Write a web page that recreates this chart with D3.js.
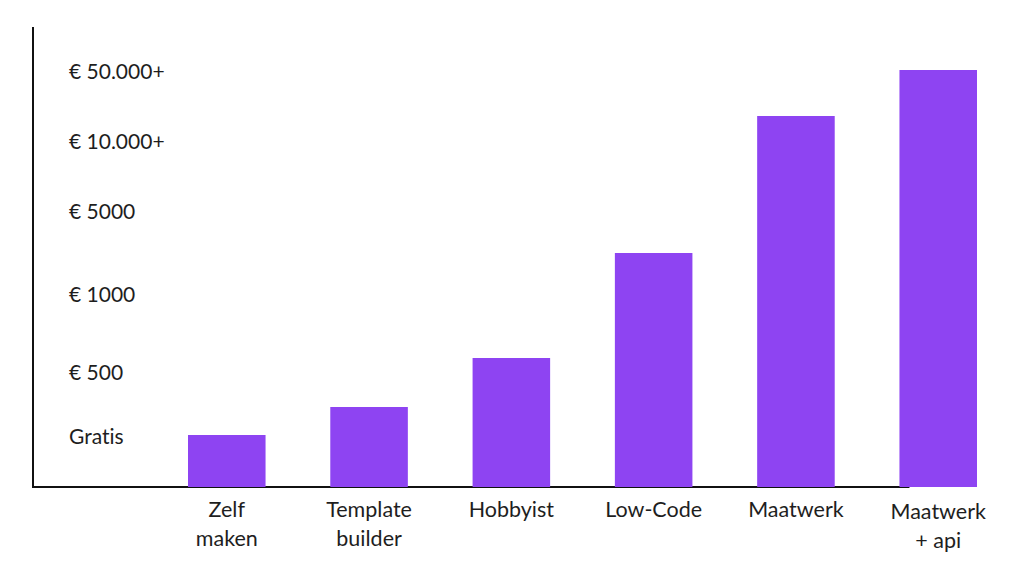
<!DOCTYPE html>
<html>
<head>
<meta charset="utf-8">
<script src="https://cdn.jsdelivr.net/npm/d3@7"></script>
<style>
  html, body { margin: 0; padding: 0; background: #fff; }
  svg { display: block; }
  text { font-family: Lato, "Open Sans", sans-serif; fill: #1e1e1e; font-variant-ligatures: none; }
</style>
</head>
<body>
<svg id="chart" width="1024" height="576"></svg>
<script>
// Categories (multi-line labels)
const categories = [["Zelf", "maken"], ["Template", "builder"], ["Hobbyist"], ["Low-Code"], ["Maatwerk"], ["Maatwerk", "+ api"]];
// Relative bar heights (index units)
const values = [52, 80, 129, 234, 371, 417];
// Y-axis price labels and their levels on the same index scale
const tickLabels = ["Gratis", "€ 500", "€ 1000", "€ 5000", "€ 10.000+", "€ 50.000+"];
const tickLevels = [51, 115, 193, 276, 346, 416];

const svg = d3.select("#chart");
const color = "#8e44f2";

const y = d3.scaleLinear().domain([0, 460]).range([487, 27]);
const x = d3.scaleBand()
  .domain(categories.map((d, i) => i))
  .range([188, 977])
  .paddingInner(0.455)
  .paddingOuter(0);

// axes lines
svg.append("line")
  .attr("x1", 33).attr("x2", 33)
  .attr("y1", y(460)).attr("y2", y(0) + 1)
  .attr("stroke", "#111").attr("stroke-width", 2);
svg.append("line")
  .attr("x1", 32).attr("x2", x(5) + 10)
  .attr("y1", y(0)).attr("y2", y(0))
  .attr("stroke", "#111").attr("stroke-width", 2);

// bars
svg.append("g").selectAll("rect")
  .data(values)
  .join("rect")
  .attr("x", (d, i) => x(i))
  .attr("y", d => y(d))
  .attr("width", x.bandwidth())
  .attr("height", d => y(0) - y(d))
  .attr("fill", color);

// y labels
svg.append("g").selectAll("text")
  .data(tickLabels)
  .join("text")
  .attr("x", 69)
  .attr("y", (d, i) => y(tickLevels[i]))
  .attr("dy", "0.36em")
  .attr("font-size", 21)
  .text(d => d);

// x labels
const xl = svg.append("g").selectAll("text")
  .data(categories)
  .join("text")
  .attr("text-anchor", "middle")
  .attr("font-size", 21.5)
  .attr("transform", (d, i) => `translate(${x(i) + x.bandwidth() / 2},${i === 5 ? 519 : 517})`);
xl.selectAll("tspan")
  .data(d => d)
  .join("tspan")
  .attr("x", 0)
  .attr("dy", (d, j) => j === 0 ? 0 : 29)
  .text(d => d);
</script>
</body>
</html>
